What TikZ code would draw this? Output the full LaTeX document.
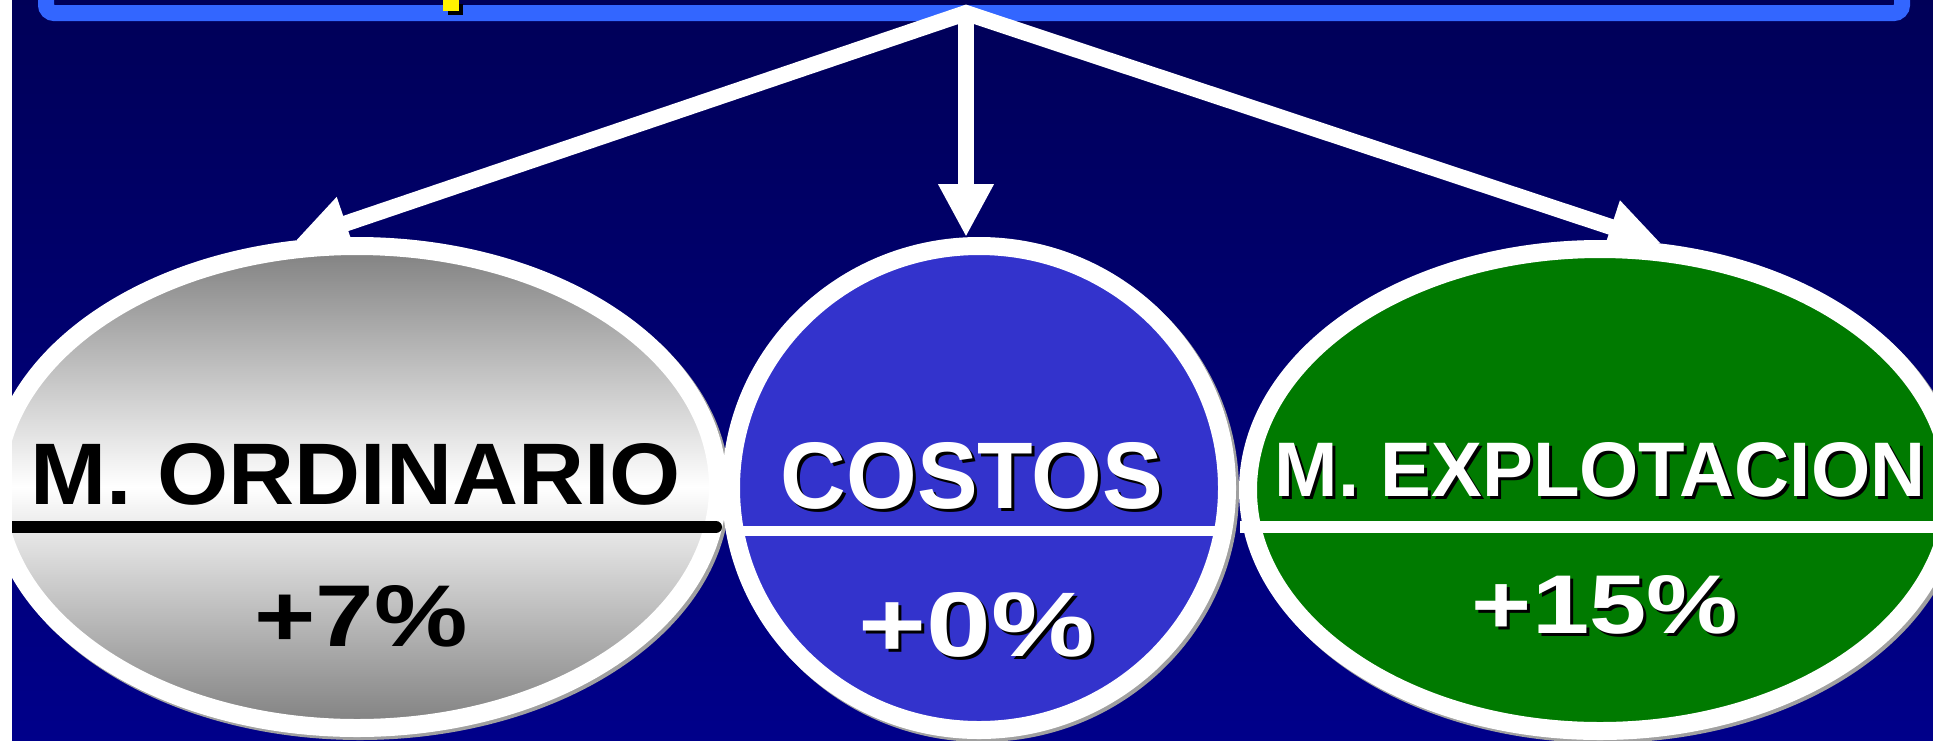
\documentclass[tikz,border=0pt]{standalone}
\usepackage{fontspec}
\setmainfont{Liberation Sans}
\usepackage{graphicx}
\usetikzlibrary{arrows.meta, shapes.geometric}

\definecolor{bgtop}{HTML}{000058}
\definecolor{bgbottom}{HTML}{00008A}
\definecolor{barblue}{HTML}{3366FF}
\definecolor{costblue}{HTML}{3333CC}
\definecolor{explgreen}{HTML}{007A00}
\definecolor{shadowgray}{HTML}{A0A0A0}

\newcommand{\shadowed}[1]{\makebox[0pt][l]{\hspace{3pt}\raisebox{-3pt}{\color{black}#1}}#1}

\begin{document}
\begin{tikzpicture}[
        x=1pt, y=-1pt,
        font=\bfseries,
        >={Triangle[length=53pt, width=52pt]},
        pill/.style={ellipse, draw=white, line width=18pt, inner sep=0pt,
            preaction={draw=shadowgray, fill=shadowgray,
                transform canvas={shift={(3pt,-3pt)}}}},
        link/.style={white, line width=16pt, line join=miter},
        label/.style={anchor=base, inner sep=0pt},
    ]

    \def\xleft{0}
    \def\xright{1943}
    \def\ytop{0}
    \def\ybottom{740}

    \useasboundingbox (\xleft,\ytop) rectangle (\xright,\ybottom);
    \clip (\xleft-3,\ytop-3) rectangle (\xright+3,\ybottom+3);

    \shade[top color=bgtop, bottom color=bgbottom]
    (\xleft-3,\ytop-3) rectangle (\xright+3,\ybottom+3);

    \draw[barblue, line width=16pt, rounded corners=8pt] (46,-60) rectangle (1902,13);
    \fill[black] (448,4) rectangle (463,15);
    \fill[yellow] (443,-5) rectangle (459,11);

    \node[pill, minimum width=722pt, minimum height=482pt,
        top color=gray, bottom color=gray, middle color=white]
    (ordinario) at (357,487) {};
    \node[pill, minimum width=496pt, minimum height=484pt, fill=costblue]
    (costos) at (979,488) {};
    \node[pill, minimum width=704pt, minimum height=482pt, fill=explgreen]
    (explotacion) at (1600,490) {};

    \draw[black, line width=12pt, line cap=round] (5,527) -- (716,527);
    \draw[white, line width=10pt] (727,531) -- (1231,531);
    \draw[white, line width=12pt] (1240,527) -- (1940,527);

    \node[label, text=black] (ordtitle) at (356,504)
    {\resizebox{650pt}{61pt}{M. ORDINARIO}};
    \node[label, text=black] (ordvalue) at (361,646)
    {\resizebox{213pt}{61pt}{+7\%}};

    \node[label, text=white] (costtitle) at (972,508)
    {\shadowed{\resizebox{382pt}{66pt}{COSTOS}}};
    \node[label, text=white] (costvalue) at (977,656)
    {\shadowed{\resizebox{236pt}{64pt}{+0\%}}};

    \node[label, text=white] (expltitle) at (1600,496)
    {\shadowed{\resizebox{650pt}{54pt}{M. EXPLOTACION}}};
    \node[label, text=white] (explvalue) at (1605,633)
    {\shadowed{\resizebox{266pt}{58pt}{+15\%}}};

    \coordinate (top) at (966,13);
    \draw[link, <->] (ordinario.104) -- (top) -- (explotacion.76);
    \draw[link, ->] (top) -- (top |- costos.north);

    \fill[white] (\xleft-3,\ytop-3) rectangle (12,\ybottom+3);
    \fill[white] (1933,\ytop-3) rectangle (\xright+3,\ybottom+3);

\end{tikzpicture}
\end{document}
